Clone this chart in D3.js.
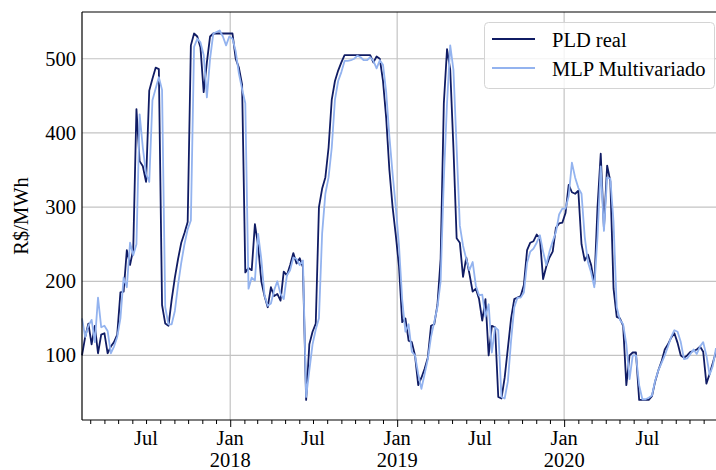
<!DOCTYPE html>
<html><head><meta charset="utf-8">
<script src="https://cdn.jsdelivr.net/npm/d3@7"></script>
<style>
body{margin:0;background:#fff}
svg{display:block}
text{font-family:"Liberation Serif","Times New Roman",serif;fill:#000}
</style>
</head><body>
<svg id="chart" width="716" height="470"></svg>
<script>
// ---- data (weekly, starting Saturday 2017-02-11) ----
const startDate = "2017-02-11";
const realValues = [
100,125,143,115,140,103,128,130,103,112,
118,128,185,186,242,222,243,432,362,355,
334,457,473,488,486,168,143,140,175,205,
230,252,265,280,518,534,530,515,455,495,
530,534,534,534,534,534,534,534,500,488,
465,212,218,215,277,248,200,180,165,192,
180,183,174,213,208,222,238,224,231,219,
40,115,132,143,300,325,340,380,445,470,
484,495,505,505,505,505,505,505,505,505,
505,495,503,500,470,420,350,300,262,220,
145,150,120,118,100,60,70,82,97,140,
142,168,230,440,513,485,380,258,252,206,
232,210,186,190,176,147,176,100,140,138,
44,42,70,110,150,176,178,180,195,242,
252,254,263,258,203,220,232,240,272,278,
279,292,330,320,318,322,250,228,236,222,
196,300,372,271,356,335,190,152,150,140,
60,100,104,104,40,40,40,40,45,65,
80,92,108,115,124,130,117,100,97,100,
105,106,108,112,105,62,75,90,105
];
const mlpValues = [
150,125,140,148,118,178,138,140,133,103,
112,125,150,205,192,252,235,250,425,380,
345,334,444,460,475,458,165,142,142,160,
195,225,250,270,282,516,527,522,505,448,
500,534,536,538,530,518,530,527,510,480,
459,440,190,205,201,264,230,181,167,170,
188,200,183,176,208,215,232,230,222,228,
44,80,115,135,150,265,318,340,380,445,
470,482,497,497,498,500,504,502,498,498,
502,497,487,498,492,455,395,345,300,248,
175,132,142,105,100,75,55,75,95,125,
145,165,200,338,440,518,485,380,275,248,
230,215,226,194,181,182,152,169,104,138,
134,44,42,65,120,165,178,178,185,225,
240,244,252,262,240,222,240,254,266,290,
298,298,315,360,340,326,318,260,226,212,
192,260,355,268,340,338,280,165,148,142,
115,68,100,100,60,41,41,43,46,66,
80,90,100,112,125,134,132,118,95,96,
102,108,102,112,118,100,74,86,110
];
const yTicks = [100,200,300,400,500];
const seriesNames = ["PLD real","MLP Multivariado"];
const seriesColors = ["#101c64","#93b3ef"];
const yLabel = "R$/MWh";
const monthNames = {0:"Jan",6:"Jul"};

// ---- layout ----
const L = 82, R = 716, T = 12, B = 420;
const FS = 20.5;

const parse = d3.utcParse("%Y-%m-%d");
const d0 = parse(startDate);
const dates = realValues.map((_, i) => d3.utcDay.offset(d0, 7 * i));

const x = d3.scaleUtc().domain([dates[0], dates[dates.length - 1]]).range([L, R]);
const y = d3.scaleLinear().domain([13, 563]).range([B, T]);

const svg = d3.select("#chart");

// grid
const years = d3.utcYear.range(d3.utcYear.ceil(dates[0]), dates[dates.length - 1]);
svg.append("g").selectAll("line").data(yTicks).join("line")
  .attr("x1", L).attr("x2", R).attr("y1", d => y(d)).attr("y2", d => y(d))
  .attr("stroke", "#c3c3c3").attr("stroke-width", 1.2);
svg.append("g").selectAll("line").data(years).join("line")
  .attr("x1", d => x(d)).attr("x2", d => x(d)).attr("y1", T).attr("y2", B)
  .attr("stroke", "#c3c3c3").attr("stroke-width", 1.2);

// lines
const line = d3.line().x((d, i) => x(dates[i])).y(d => y(d)).curve(d3.curveLinear);
[realValues, mlpValues].forEach((vals, k) => {
  svg.append("path").datum(vals).attr("d", line)
    .attr("fill", "none").attr("stroke", seriesColors[k])
    .attr("stroke-width", 1.8).attr("stroke-linejoin", "round");
});

// x axis ticks (minor monthly, major yearly)
const months = d3.utcMonth.range(d3.utcMonth.ceil(dates[0]), dates[dates.length - 1]);
const minorAxis = d3.axisBottom(x).tickValues(months.filter(m => m.getUTCMonth() !== 0))
  .tickSize(4).tickFormat("");
const majorAxis = d3.axisBottom(x).tickValues(years).tickSize(7).tickFormat("");
const gMinor = svg.append("g").attr("transform", `translate(0,${B})`).call(minorAxis);
const gMajor = svg.append("g").attr("transform", `translate(0,${B})`).call(majorAxis);
[gMinor, gMajor].forEach(g => {
  g.select(".domain").remove();
  g.selectAll(".tick line").attr("stroke", "#000").attr("stroke-width", 1);
});

// x labels
const labelled = months.filter(m => monthNames[m.getUTCMonth()] !== undefined);
const xl = svg.append("g").selectAll("text").data(labelled).join("text")
  .attr("x", d => x(d)).attr("y", 444.5)
  .attr("text-anchor", "middle").attr("font-size", FS);
xl.append("tspan").attr("x", d => x(d)).text(d => monthNames[d.getUTCMonth()]);
xl.filter(d => d.getUTCMonth() === 0).append("tspan")
  .attr("x", d => x(d)).attr("dy", 22.5).text(d => d.getUTCFullYear());

// y labels
svg.append("g").selectAll("text").data(yTicks).join("text")
  .attr("x", 76).attr("y", d => y(d) + 7)
  .attr("text-anchor", "end").attr("font-size", FS).text(d => d);

svg.append("text").attr("transform", `translate(27.5,${(T + B) / 2}) rotate(-90)`)
  .attr("text-anchor", "middle").attr("font-size", FS).text(yLabel);

// spines
svg.append("line").attr("x1", L).attr("x2", L).attr("y1", T).attr("y2", B)
  .attr("stroke", "#000").attr("stroke-width", 1.2);
svg.append("line").attr("x1", L).attr("x2", R).attr("y1", B).attr("y2", B)
  .attr("stroke", "#000").attr("stroke-width", 1.2);
svg.append("line").attr("x1", L).attr("x2", R).attr("y1", T).attr("y2", T)
  .attr("stroke", "#000").attr("stroke-width", 1.2);

// legend
const lg = svg.append("g");
lg.append("rect").attr("x", 484.5).attr("y", 22.5).attr("width", 230).attr("height", 66)
  .attr("rx", 4).attr("fill", "#fff").attr("fill-opacity", 0.8)
  .attr("stroke", "#d4d4d4").attr("stroke-width", 1);
seriesNames.forEach((n, k) => {
  const cy = 39 + k * 29;
  lg.append("line").attr("x1", 492).attr("x2", 535).attr("y1", cy).attr("y2", cy)
    .attr("stroke", seriesColors[k]).attr("stroke-width", 1.8);
  lg.append("text").attr("x", 552).attr("y", cy + 7.5).attr("font-size", FS).text(n);
});
</script>
</body></html>
